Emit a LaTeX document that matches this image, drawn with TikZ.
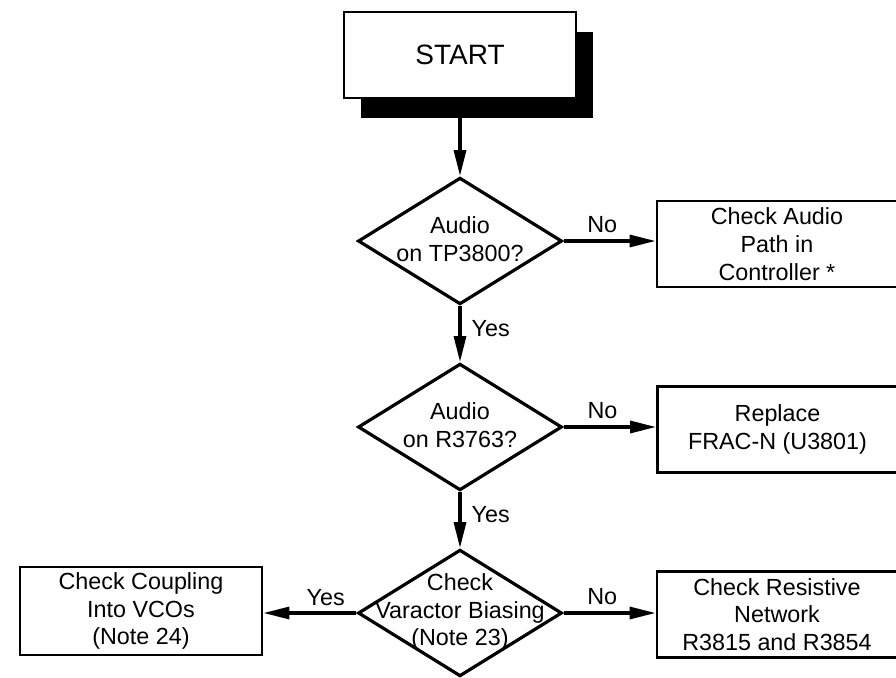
\documentclass[tikz,border=0pt]{standalone}
\usepackage{fontspec}
\setmainfont{Liberation Sans}
\usetikzlibrary{shapes.geometric,arrows.meta,shadows}

\tikzset{
  txt/.style={font=\fontsize{17.5}{20.8}\selectfont},
  startbox/.style={draw, fill=white, line width=1.5pt, minimum width=174pt,
    minimum height=64.5pt, inner sep=0pt, font=\fontsize{21}{24}\selectfont,
    general shadow={fill=black, shadow xshift=12.75pt, shadow yshift=-15pt}},
  decision/.style={draw, diamond, line width=2.4pt, minimum width=153pt,
    minimum height=95pt, inner sep=0pt},
  dtext/.style={txt, align=center},
  actionbox/.style={draw, line width=2.1pt, minimum width=180pt,
    minimum height=64.5pt, inner sep=0pt, align=center, txt},
  flow/.style={line width=2.4pt, -{Triangle[length=19.5pt,width=9pt]}},
  elabel/.style={txt, inner sep=0pt}
}

\begin{document}
\begin{tikzpicture}[x=0.75pt, y=-0.75pt]
  \useasboundingbox (0,0) rectangle (896,678);

  % decisions
  \node[decision] (d1) at (460,241) {};
  \node[dtext] (t1) at (460,239) {Audio\\on TP3800?};
  \node[decision] (d2) at (460,427) {};
  \node[dtext] (t2) at (460,425) {Audio\\on R3763?};
  \node[decision] (d3) at (460,613) {};
  \node[dtext] (t3) at (460,612) {Check\\Varactor Biasing\\(Note 23)};

  % actions
  \node[actionbox] (a1) at (777,244) {Check Audio\\Path in\\Controller *};
  \node[actionbox] (a2) at (777.5,429.5) {Replace\\FRAC-N (U3801)};
  \node[actionbox] (a3) at (777,614.5) {Check Resistive\\Network\\R3815 and R3854};
  \node[actionbox, minimum width=181.5pt, minimum height=66pt] (a4) at (141,611)
    {Check Coupling\\Into VCOs\\(Note 24)};

  % start terminal, drawn after the first connector so its shadow covers it
  \coordinate (s) at (460,55);
  \draw[flow] (s) ++(0,43) coordinate (sbot) -- (d1.north);
  \node[startbox] (start) at (s) {START};

  % connectors
  \draw[flow] (d1.east) -- node[elabel, pos=0.42, anchor=base, yshift=6.75pt] {No} (d1.east -| a1.west);
  \draw[flow] (d1.south) -- node[elabel, pos=0.4, anchor=west, xshift=7.5pt] {Yes} (d2.north);
  \draw[flow] (d2.east) -- node[elabel, pos=0.42, anchor=base, yshift=6.75pt] {No} (d2.east -| a2.west);
  \draw[flow] (d2.south) -- node[elabel, pos=0.4, anchor=west, xshift=7.5pt] {Yes} (d3.north);
  \draw[flow] (d3.east) -- node[elabel, pos=0.42, anchor=base, yshift=6.75pt] {No} (d3.east -| a3.west);
  \draw[flow] (d3.west) -- node[elabel, pos=0.33, anchor=base, yshift=6pt] {Yes} (d3.west -| a4.east);
\end{tikzpicture}
\end{document}
